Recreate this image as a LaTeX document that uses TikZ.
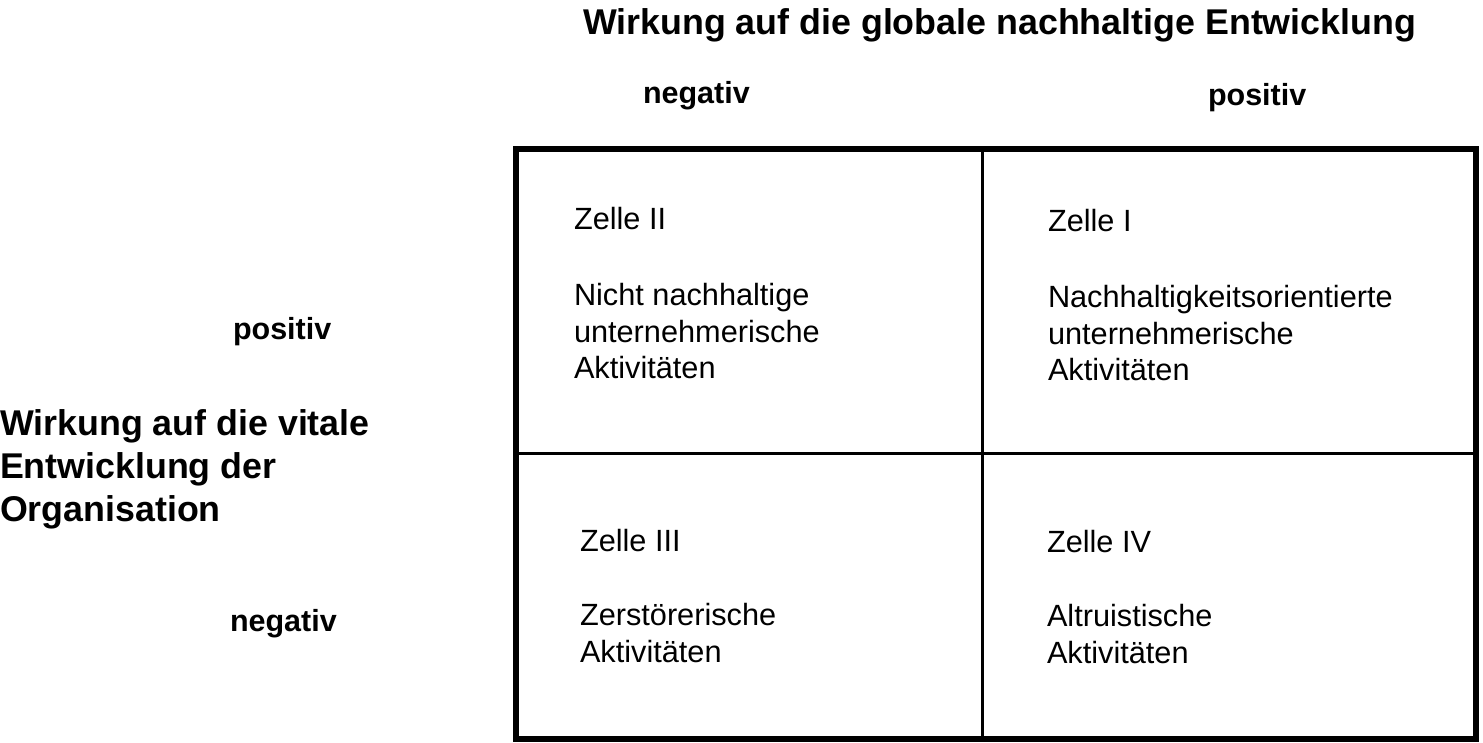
\documentclass[tikz,border=0pt]{standalone}
\usepackage{fontspec}
\setmainfont{Liberation Sans}
\begin{document}
\begin{tikzpicture}[x=1pt,y=-1pt,
  every node/.style={inner sep=0pt,outer sep=0pt},
  body/.style={anchor=base west,font=\fontsize{30.7}{37}\selectfont},
  lbl/.style={anchor=base west,font=\fontsize{30.5}{36}\selectfont\bfseries},
  head/.style={anchor=base west,font=\fontsize{35.8}{43}\selectfont\bfseries},
  frame/.style={line width=6pt},
  divider/.style={line width=2.6pt}]
\useasboundingbox (0,0) rectangle (1483,742);
% grid
\coordinate (tl) at (515.7,149);
\coordinate (br) at (1476.3,739);
\coordinate (vt) at (982.5,149);
\coordinate (vb) at (982.5,739);
\coordinate (hl) at (515.7,453.5);
\coordinate (hr) at (1476.3,453.5);
\draw[divider] (vt) -- (vb);
\draw[divider] (hl) -- (hr);
\draw[frame] (tl) rectangle (br);
% headings
\node[head] (title) at (583,34) {Wirkung auf die globale nachhaltige Entwicklung};
\node[lbl] (tneg) at (643,103) {negativ};
\node[lbl] (tpos) at (1208,105) {positiv};
\node[head] (l1) at (0,435) {Wirkung auf die vitale};
\node[head] (l2) at (0,478) {Entwicklung der};
\node[head] (l3) at (0,521) {Organisation};
\node[lbl] (lpos) at (233,339) {positiv};
\node[lbl] (lneg) at (230,631) {negativ};
% cell II
\node[body] (c2h) at (574,229) {Zelle II};
\node[body] (c2a) at (574,305) {Nicht nachhaltige};
\node[body] (c2b) at (574,342) {unternehmerische};
\node[body] (c2c) at (574,378) {Aktivitäten};
% cell I
\node[body] (c1h) at (1048,231) {Zelle I};
\node[body] (c1a) at (1048,307) {Nachhaltigkeitsorientierte};
\node[body] (c1b) at (1048,344) {unternehmerische};
\node[body] (c1c) at (1048,380) {Aktivitäten};
% cell III
\node[body] (c3h) at (580,551) {Zelle III};
\node[body] (c3a) at (580,625) {Zerstörerische};
\node[body] (c3b) at (580,662) {Aktivitäten};
% cell IV
\node[body] (c4h) at (1047,552) {Zelle IV};
\node[body] (c4a) at (1047,626) {Altruistische};
\node[body] (c4b) at (1047,663) {Aktivitäten};
\end{tikzpicture}
\end{document}
